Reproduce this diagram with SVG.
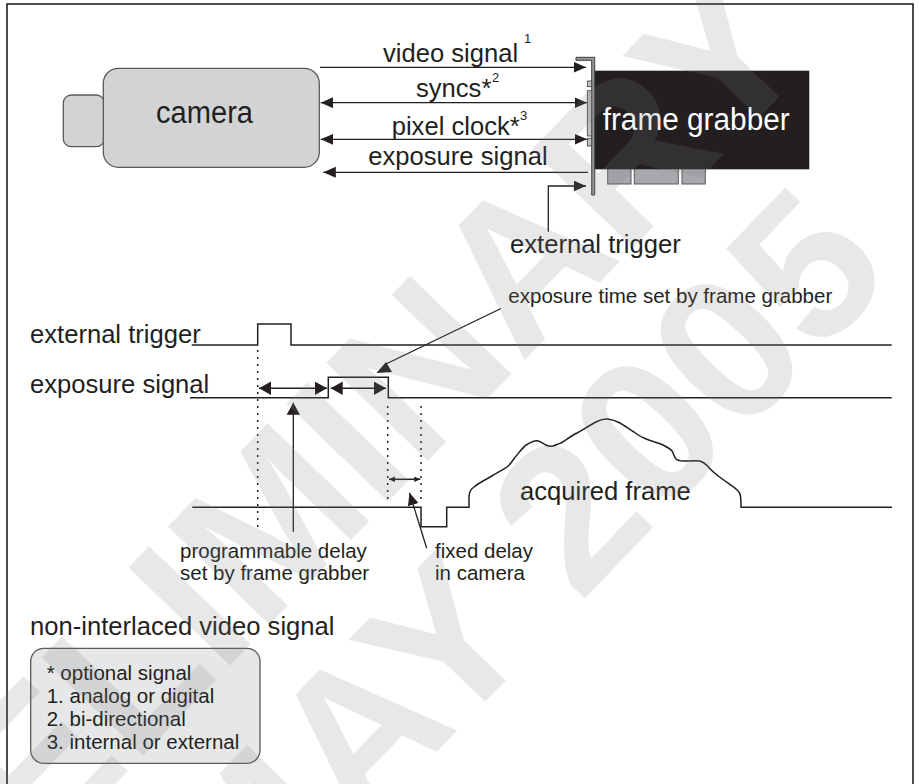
<svg xmlns="http://www.w3.org/2000/svg" width="919" height="784" viewBox="0 0 919 784">
  <defs>
    <style>
      text { font-family: "Liberation Sans", Arial, Helvetica, sans-serif; fill: #231f20; }
      .lbl { font-size: 25.6px; }
      .sm { font-size: 20.5px; }
      .sup { font-size: 13px; }
      .big { font-size: 31px; }
      .wire { stroke: #231f20; stroke-width: 1.3; fill: none; }
      .sig { stroke: #231f20; stroke-width: 1.5; fill: none; }
      .dot { stroke: #231f20; stroke-width: 1.5; fill: none; stroke-dasharray: 2 5; }
      .wm { font-family: "Liberation Sans", Arial, sans-serif; font-weight: bold; font-size: 205px; fill: #808080; fill-opacity: 0.18; }
    </style>
    <marker id="ah" markerUnits="userSpaceOnUse" markerWidth="13" markerHeight="12" refX="12.5" refY="5.5" orient="auto-start-reverse">
      <path d="M0,0 L12.5,5.5 L0,11 z" fill="#231f20"/>
    </marker>
    <marker id="ahT" markerUnits="userSpaceOnUse" markerWidth="13" markerHeight="14" refX="12" refY="6.7" orient="auto-start-reverse">
      <path d="M0,0 L12,6.7 L0,13.4 z" fill="#231f20"/>
    </marker>
    <marker id="ahS" markerUnits="userSpaceOnUse" markerWidth="7" markerHeight="6" refX="6" refY="2.8" orient="auto-start-reverse">
      <path d="M0,0 L6,2.8 L0,5.6 z" fill="#231f20"/>
    </marker>
  </defs>

  <rect width="919" height="784" fill="#ffffff"/>
  <!-- page frame -->
  <rect x="7" y="4" width="906" height="800" fill="none" stroke="#231f20" stroke-width="1.6"/>

  <!-- camera -->
  <g id="camera">
    <rect x="63.3" y="95" width="41" height="51.7" rx="8" fill="#d1d3d4" stroke="#58595b" stroke-width="1.3"/>
    <rect x="103.3" y="68.3" width="216" height="99" rx="15" fill="#d1d3d4" stroke="#58595b" stroke-width="1.3"/>
    <text class="big" x="156" y="122.7" textLength="97" lengthAdjust="spacingAndGlyphs">camera</text>
  </g>

  <!-- frame grabber card -->
  <g id="frame-grabber">
    <rect x="607.7" y="168" width="23.3" height="16" fill="#a7a9ac" stroke="#58595b" stroke-width="1"/>
    <rect x="634.3" y="168" width="44" height="16" fill="#a7a9ac" stroke="#58595b" stroke-width="1"/>
    <rect x="682" y="168" width="23.3" height="16" fill="#a7a9ac" stroke="#58595b" stroke-width="1"/>
    <rect x="593.3" y="70.7" width="216" height="98.6" fill="#231f20"/>
    <path d="M576,57.3 H594.7 V195 H591.7 V60.3 H576 Z" fill="#939598" stroke="#414042" stroke-width="1"/>
    <rect x="587.3" y="81" width="4.4" height="5.7" fill="#bcbec0" stroke="#414042" stroke-width="0.8"/>
    <rect x="587.3" y="90.7" width="4.4" height="45.3" fill="#bcbec0" stroke="#414042" stroke-width="0.8"/>
    <rect x="587.3" y="138.3" width="4.4" height="7.7" fill="#bcbec0" stroke="#414042" stroke-width="0.8"/>
    <text class="big" x="602.7" y="130" style="fill:#ffffff" textLength="187" lengthAdjust="spacingAndGlyphs">frame grabber</text>
  </g>

  <!-- signal lines between camera and frame grabber -->
  <g id="connectors">
    <line class="wire" x1="320" y1="67.3" x2="586" y2="67.3" marker-end="url(#ah)"/>
    <line class="wire" x1="320.7" y1="102.7" x2="587" y2="102.7" marker-start="url(#ah)" marker-end="url(#ah)"/>
    <line class="wire" x1="320.7" y1="139.3" x2="587" y2="139.3" marker-start="url(#ah)" marker-end="url(#ah)"/>
    <line class="wire" x1="323.3" y1="172.3" x2="588" y2="172.3" marker-start="url(#ah)"/>
    <polyline class="wire" points="548.3,231.7 548.3,186 586,186" marker-end="url(#ah)"/>
  </g>

  <g id="signal-labels">
    <text class="lbl" x="383" y="61.5">video signal</text>
    <text class="sup" x="524" y="43">1</text>
    <text class="lbl" x="416" y="96.7">syncs*</text>
    <text class="sup" x="492" y="81.5">2</text>
    <text class="lbl" x="391.7" y="134.5">pixel clock*</text>
    <text class="sup" x="520" y="119.5">3</text>
    <text class="lbl" x="368.3" y="165">exposure signal</text>
    <text class="lbl" x="510" y="253.3">external trigger</text>
  </g>

  <!-- timing diagram -->
  <g id="timing">
    <text class="lbl" x="30" y="343">external trigger</text>
    <text class="lbl" x="30" y="393.3">exposure signal</text>
    <polyline class="sig" points="191.7,345 257.7,345 257.7,324 291,324 291,345 891.7,345"/>
    <polyline class="sig" points="190,397.7 328.3,397.7 328.3,377.3 388.3,377.3 388.3,397.7 891.7,397.7"/>
    <line class="dot" x1="257.7" y1="350" x2="257.7" y2="527"/>
    <line class="dot" x1="387.7" y1="406" x2="387.7" y2="500"/>
    <line class="dot" x1="421" y1="406" x2="421" y2="500"/>
    <line class="sig" x1="259" y1="388.3" x2="327" y2="388.3" marker-start="url(#ahT)" marker-end="url(#ahT)"/>
    <line class="sig" x1="330.7" y1="388.3" x2="386" y2="388.3" marker-start="url(#ahT)" marker-end="url(#ahT)"/>
    <line class="sig" x1="389" y1="479.3" x2="420.3" y2="479.3" stroke-width="1.2" marker-start="url(#ahS)" marker-end="url(#ahS)"/>
    <path class="sig" d="M192.3,507.3 H421 V526.7 H446.7 V507.3 H469 V497 C469,492 471,489 474,487 C480,482 487,479 491,476.5 C498,472 503,470 507,467 C512,463 514,458 517,455 C521,450 524,446 527,444.5 C531,442 534,440.5 537,440.7 C541,441 543,444 546,445 C549,446.5 551,446.5 553,446 C556,445 558,444 561,443 C566,440 571,436 577,433 C584,429 590,425 597,421.5 C601,419.5 604,418.8 607.5,419 C611,419.3 615,420.5 619,422.5 C624,425 629,429 634,432 C638,435 641,437 645,438.5 C651,441 657,442.5 663,445 C667,447 670,448.5 672,451 C674,454 674,457 676,459 C678,461 680,461 684,461 C690,461 696,460.5 700,461 C703,462 705,463.5 707,465.5 C710,469 713,472 717,475 C722,479 728,483 733,486.5 C736,489 739,491 740,494 C741,497 741,501 741,507.3 H892"/>
    <text class="lbl" x="520" y="500">acquired frame</text>
  </g>

  <!-- annotations -->
  <g id="annotations">
    <text class="sm" x="508.3" y="303.3" textLength="324" lengthAdjust="spacingAndGlyphs">exposure time set by frame grabber</text>
    <line class="wire" x1="501" y1="308.5" x2="386" y2="364"/>
    <polygon points="376.5,373 392,372 386,362" fill="#231f20"/>
    <line class="wire" x1="293.3" y1="531.7" x2="293.3" y2="402.7" marker-end="url(#ahT)"/>
    <text class="sm" x="180" y="558.3">programmable delay</text>
    <text class="sm" x="180" y="580">set by frame grabber</text>
    <line class="wire" x1="426.7" y1="548.3" x2="409.5" y2="492.7" marker-end="url(#ah)"/>
    <text class="sm" x="435" y="558.3">fixed delay</text>
    <text class="sm" x="435" y="580">in camera</text>
  </g>

  <text class="lbl" x="30" y="635">non-interlaced video signal</text>

  <!-- legend -->
  <g id="legend">
    <rect x="30.7" y="648.3" width="229.3" height="115" rx="13" fill="#e6e7e8" stroke="#58595b" stroke-width="1.3"/>
    <text class="sm" x="46.7" y="680">* optional signal</text>
    <text class="sm" x="46.7" y="702.7">1. analog or digital</text>
    <text class="sm" x="46.7" y="726">2. bi-directional</text>
    <text class="sm" x="46.7" y="749.3">3. internal or external</text>
  </g>

  <!-- draft stamp -->
  <g id="watermark">
    <text class="wm" x="-159.4" y="1068.5" transform="rotate(-46 -159.4 1068.5)">PRELIMINARY</text>
    <text class="wm" x="239.4" y="956" transform="rotate(-46 239.4 956)">MAY 2005</text>
  </g>
</svg>
